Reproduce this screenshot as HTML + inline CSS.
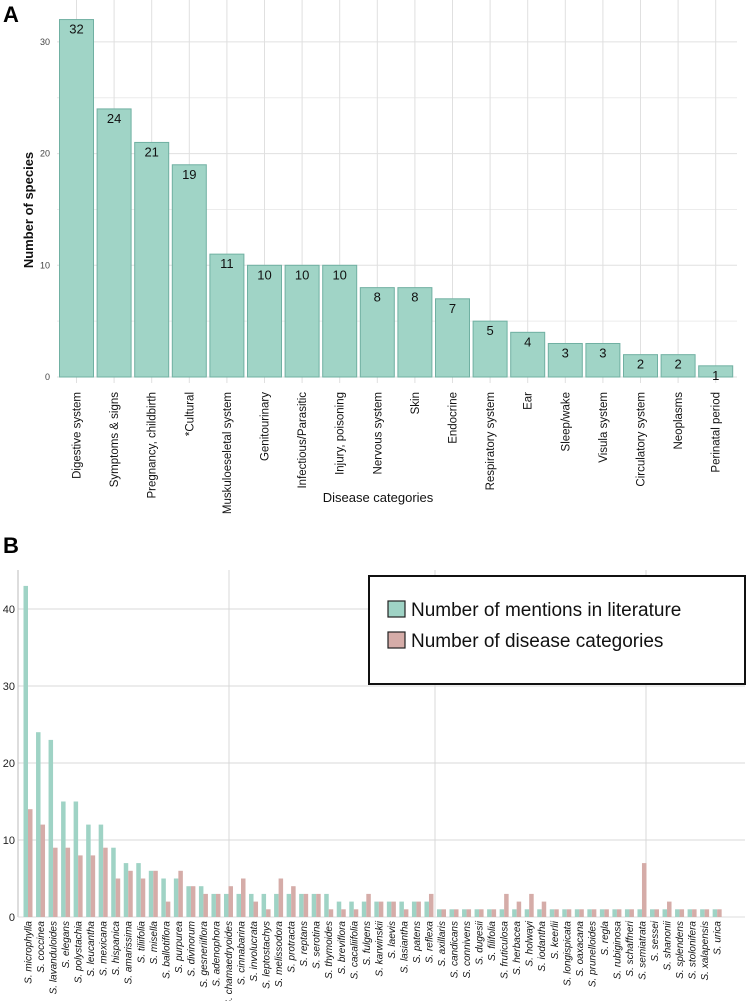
<!DOCTYPE html>
<html><head><meta charset="utf-8"><style>
html,body{margin:0;padding:0;background:#fff;}
svg{display:block;font-family:"Liberation Sans",sans-serif;}
</style></head><body>
<svg id="fig" width="750" height="1001" viewBox="0 0 750 1001">
<text x="3" y="22" font-size="22" font-weight="bold">A</text>
<text x="3" y="553" font-size="22" font-weight="bold">B</text>
<g id="ga"></g>
<g id="gb"></g>
</svg>
<script>
const catsA = ["Digestive system","Symptoms & signs","Pregnancy, childbirth","*Cultural","Muskuloeseletal system","Genitourinary","Infectious/Parasitic","Injury, poisoning","Nervous system","Skin","Endocrine","Respiratory system","Ear","Sleep/wake","Visula system","Circulatory system","Neoplasms","Perinatal period"];
const valsA = [32,24,21,19,11,10,10,10,8,8,7,5,4,3,3,2,2,1];
const ticksA = [0,10,20,30];

const species = ["microphylla","coccinea","lavanduloides","elegans","polystachia","leucantha","mexicana","hispanica","amarissima","tiliifolia","misella","ballotiflora","purpurea","divinorum","gesneriiflora","adenophora","chamaedryoides","cinnabarina","involucrata","leptostachys","melissodora","protracta","reptans","serotina","thymoides","breviflora","cacaliifolia","fulgens","karwinskii","laevis","lasiantha","patens","reflexa","axillaris","candicans","connivens","dugesii","filifolia","fruticulosa","herbacea","holwayi","iodantha","keerlii","longispicata","oaxacana","prunelloides","regla","rubiginosa","schaffneri","semiatrata","sessei","shanonii","splendens","stolonifera","xalapensis","urica"];
const mentions = [43,24,23,15,15,12,12,9,7,7,6,5,5,4,4,3,3,3,3,3,3,3,3,3,3,2,2,2,2,2,2,2,2,1,1,1,1,1,1,1,1,1,1,1,1,1,1,1,1,1,1,1,1,1,1,1];
const diseases = [14,12,9,9,8,8,9,5,6,5,6,2,6,4,3,3,4,5,2,1,5,4,3,3,1,1,1,3,2,2,1,2,3,1,1,1,1,1,3,2,3,2,1,1,1,1,1,1,1,7,1,2,1,1,1,1];
const ticksB = [0,10,20,30,40];

const NS="http://www.w3.org/2000/svg";
function mk(p,t,a,txt){const e=document.createElementNS(NS,t);for(const k in a)e.setAttribute(k,a[k]);if(txt!==undefined)e.textContent=txt;p.appendChild(e);return e;}

// Panel A
const ga=document.getElementById('ga');
const yA=v=>377-v*11.17;
const xA=i=>76.5+i*37.6;
for(let v=5;v<=33;v+=10){const l=mk(ga,'line',{x1:57,x2:737,y1:yA(v),y2:yA(v),stroke:'#ececec','stroke-width':1});

}
ticksA.forEach(t=>{const l=mk(ga,'line',{x1:57,x2:737,y1:yA(t),y2:yA(t),stroke:'#e0e0e0','stroke-width':1});


const tx=mk(ga,'text',{x:50,y:yA(t)+3,'font-size':9,'text-anchor':'end',fill:'#444'},t);

});
catsA.forEach((c,i)=>{const l=mk(ga,'line',{x1:xA(i),x2:xA(i),y1:0,y2:383,stroke:'#e0e0e0','stroke-width':1});

});
catsA.forEach((c,i)=>{
const r=mk(ga,'rect',{x:xA(i)-17,y:yA(valsA[i]),width:34,height:377-yA(valsA[i]),fill:'#a0d4c6',stroke:'#70b0a2','stroke-width':1});


const vl=mk(ga,'text',{x:xA(i),y:yA(valsA[i])+14,'font-size':13,'text-anchor':'middle',fill:'#111'},valsA[i]);


const tl=mk(ga,'text',{x:0,y:0,'font-size':11.5,'text-anchor':'end',fill:'#111',transform:`translate(${xA(i)+4},392) rotate(-90)`},c);


});
const xt=mk(ga,'text',{x:378,y:502,'font-size':13,'text-anchor':'middle',fill:'#111'},'Disease categories');


const yt=mk(ga,'text',{x:0,y:0,'font-size':13,'font-weight':'bold','text-anchor':'middle',fill:'#111',transform:'translate(33,210) rotate(-90)'},'Number of species');



// Panel B
const gb=document.getElementById('gb');
const yB=v=>917-v*7.7;
const xB=i=>28+i*12.53;
ticksB.forEach(t=>{if(t>0){const l=mk(gb,'line',{x1:18,x2:745,y1:yB(t),y2:yB(t),stroke:'#d9d9d9','stroke-width':1});

}
const tx=mk(gb,'text',{x:15,y:yB(t)+4,'font-size':11,'text-anchor':'end',fill:'#222'},t);

});
[229,435,646].forEach(x=>{const l=mk(gb,'line',{x1:x,x2:x,y1:570,y2:917,stroke:'#d9d9d9','stroke-width':1});

});
const ax=mk(gb,'line',{x1:18,x2:18,y1:570,y2:917,stroke:'#bbb','stroke-width':1});


const ax2=mk(gb,'line',{x1:18,x2:745,y1:917,y2:917,stroke:'#ddd','stroke-width':1});


species.forEach((s,i)=>{
const a=mk(gb,'rect',{x:xB(i)-4.5,y:yB(mentions[i]),width:4.5,height:917-yB(mentions[i]),fill:'#9fd3c5'});


const b=mk(gb,'rect',{x:xB(i),y:yB(diseases[i]),width:4.5,height:917-yB(diseases[i]),fill:'#d5aca8'});


const tl=mk(gb,'text',{x:0,y:0,'font-size':10,'font-style':'italic','text-anchor':'end',fill:'#111',transform:`translate(${xB(i)+3.5},921) rotate(-90)`},'S. '+s);


});
// legend
const lg=mk(gb,'g',{});


const box=mk(lg,'rect',{x:369,y:576,width:376,height:108,fill:'#fff',stroke:'#111','stroke-width':2});


const s1=mk(lg,'rect',{x:388,y:601,width:17,height:16,fill:'#9fd3c5',stroke:'#222','stroke-width':1.2});


const t1=mk(lg,'text',{x:411,y:616,'font-size':19,fill:'#111'},'Number of mentions in literature');


const s2=mk(lg,'rect',{x:388,y:632,width:17,height:16,fill:'#d5aca8',stroke:'#222','stroke-width':1.2});


const t2=mk(lg,'text',{x:411,y:647,'font-size':19,fill:'#111'},'Number of disease categories');


</script>
</body></html>
